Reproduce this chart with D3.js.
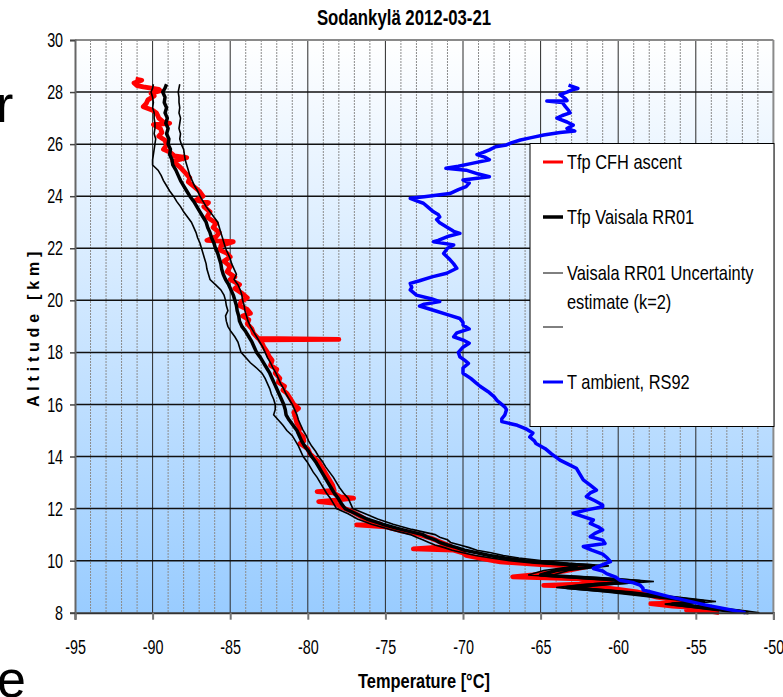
<!DOCTYPE html>
<html>
<head>
<meta charset="utf-8">
<script src="https://cdn.jsdelivr.net/npm/d3@7"></script>
<style>
  body { margin: 0; background: #fff; }
  svg { display: block; }
  text { font-family: "Liberation Sans", Arial, sans-serif; }
</style>
</head>
<body>
<div id="container"></div>
<script>
/* DATA */

// black: Tfp Vaisala RR01 and its uncertainty band (k=2), same altitudes
var rr01Alt = [28.3, 28.15, 28.0, 27.8, 27.6, 27.4, 27.2, 27.0, 26.8, 26.6, 26.4, 26.2, 26.0, 25.8, 25.6, 25.4, 25.2, 25.0,
  24.8, 24.6, 24.4, 24.2, 24.0, 23.8, 23.6, 23.4, 23.2, 23.0, 22.8, 22.6, 22.4, 22.2, 22.0, 21.8, 21.6, 21.4, 21.2, 21.0,
  20.8, 20.6, 20.4, 20.2, 20.0, 19.8, 19.6, 19.4, 19.2, 19.0, 18.8, 18.6, 18.4, 18.2, 18.0, 17.8, 17.6, 17.4, 17.2, 17.0,
  16.8, 16.6, 16.4, 16.2, 16.0, 15.8, 15.6, 15.4, 15.2, 15.0, 14.8, 14.6, 14.4, 14.2, 14.0, 13.8, 13.6, 13.4, 13.2, 13.0,
  12.8, 12.6, 12.4, 12.2, 12.0, 11.8, 11.6, 11.4, 11.2, 11.0, 10.9, 10.8, 10.7, 10.6, 10.5, 10.4, 10.3, 10.2, 10.1, 10.0,
  9.9, 9.8, 9.62, 9.45, 9.3, 9.2, 9.08, 8.97, 8.8, 8.6, 8.43, 8.33, 8.3, 8.2, 8.1, 8.0]
var rr01T = [-89.1, -89.2, -89.35, -89.2, -89.25, -89.1, -89.2, -89.05, -89.15, -89.0, -89.1, -88.95, -89.0, -88.85, -88.9, -88.75, -88.7, -88.5,
  -88.35, -88.2, -88.0, -87.8, -87.6, -87.35, -87.15, -86.95, -86.75, -86.55, -86.45, -86.3, -86.2, -86.05, -85.95, -85.8, -85.7, -85.6, -85.55, -85.45,
  -85.3, -85.1, -84.95, -84.8, -84.7, -84.6, -84.55, -84.45, -84.4, -84.25, -84.0, -83.8, -83.6, -83.45, -83.3, -83.05, -82.85, -82.65, -82.45, -82.3,
  -82.15, -82.0, -81.85, -81.7, -81.55, -81.45, -81.4, -81.2, -80.95, -80.7, -80.55, -80.4, -80.2, -79.95, -79.75, -79.5, -79.3, -79.1, -78.9, -78.7,
  -78.5, -78.3, -78.05, -77.85, -77.6, -76.9, -76.2, -75.2, -74.0, -72.6, -72.3, -71.8, -71.5, -71.0, -70.4, -69.9, -69.1, -68.3, -67.3, -66.0,
  -64.3, -61.6, -64.0, -65.0, -61.0, -58.6, -61.5, -63.3, -60.0, -57.0, -54.5, -56.5, -56.0, -54.5, -53.0, -51.6]
var rr01Lo = [-89.95, -90.0, -90.1, -90.0, -89.95, -90.0, -89.9, -89.9, -89.85, -89.85, -89.9, -89.8, -89.85, -89.9, -89.95, -90.0, -90.0, -89.65,
  -89.45, -89.3, -89.1, -88.9, -88.65, -88.45, -88.2, -88.0, -87.75, -87.5, -87.35, -87.2, -87.1, -86.95, -86.85, -86.75, -86.65, -86.55, -86.5, -86.4,
  -86.3, -85.95, -85.6, -85.4, -85.3, -85.25, -85.15, -85.3, -85.25, -85.15, -84.95, -84.7, -84.5, -84.4, -84.3, -84.0, -83.7, -83.3, -82.95, -82.75,
  -82.6, -82.45, -82.35, -82.2, -82.1, -82.1, -82.2, -81.9, -81.6, -81.35, -81.0, -80.8, -80.6, -80.45, -80.3, -80.05, -79.85, -79.65, -79.4, -79.2,
  -79.0, -78.8, -78.55, -78.35, -78.15, -77.4, -76.8, -75.9, -74.7, -73.4, -73.0, -72.6, -72.2, -71.8, -71.2, -70.7, -70.0, -69.2, -68.2, -67.0,
  -65.4, -62.6, -64.8, -65.8, -62.0, -59.5, -62.3, -64.0, -60.8, -57.8, -55.3, -57.0, -56.6, -55.2, -53.8, -52.4]
var rr01Hi = [-88.25, -88.3, -88.35, -88.3, -88.3, -88.25, -88.3, -88.2, -88.25, -88.3, -88.2, -88.25, -88.15, -88.0, -87.95, -87.9, -87.8, -87.7,
  -87.6, -87.45, -87.3, -87.1, -86.95, -86.75, -86.55, -86.3, -86.05, -85.8, -85.7, -85.6, -85.5, -85.4, -85.3, -85.15, -85.0, -84.9, -84.75, -84.6,
  -84.75, -84.5, -84.35, -84.25, -84.2, -84.1, -84.05, -83.95, -83.85, -83.7, -83.5, -83.3, -83.1, -82.9, -82.75, -82.6, -82.4, -82.25, -82.05, -81.9,
  -81.75, -81.55, -81.4, -81.2, -81.0, -80.85, -80.7, -80.6, -80.45, -80.3, -80.1, -79.95, -79.75, -79.5, -79.3, -79.05, -78.85, -78.6, -78.35, -78.15,
  -77.95, -77.7, -77.4, -77.25, -77.1, -76.3, -75.5, -74.5, -73.3, -71.8, -71.5, -71.0, -70.8, -70.2, -69.6, -69.1, -68.2, -67.4, -66.4, -65.0,
  -63.2, -60.6, -63.2, -64.2, -60.0, -57.7, -60.7, -62.6, -59.2, -56.2, -53.7, -56.0, -55.4, -53.8, -52.2, -50.9]

// red: Tfp CFH ascent
var cfhAlt = [28.5, 28.45, 28.35, 28.25, 28.2, 28.1, 28.05, 27.95, 27.85, 27.7, 27.57, 27.44, 27.3, 27.2, 27.0, 26.85, 26.8, 26.75,
  26.6, 26.45, 26.3, 26.15, 25.96, 25.8, 25.7, 25.55, 25.48, 25.35, 25.2, 25.1, 24.9, 24.7, 24.55, 24.4, 24.2, 24.0,
  23.85, 23.75, 23.6, 23.4, 23.2, 22.96, 22.8, 22.6, 22.45, 22.3, 22.25, 22.1, 21.93, 21.8, 21.67, 21.5, 21.3, 21.1,
  20.9, 20.8, 20.6, 20.45, 20.25, 20.1, 19.95, 19.8, 19.65, 19.5, 19.4, 19.25, 19.1, 18.9, 18.73, 18.54, 18.5, 18.48,
  18.3, 18.22, 18.0, 17.85, 17.7, 17.5, 17.35, 17.2, 17.0, 16.85, 16.7, 16.55, 16.43, 16.2, 16.0, 15.85, 15.7, 15.5,
  15.27, 15.1, 14.95, 14.76, 14.6, 14.5, 14.3, 14.1, 13.95, 13.8, 13.65, 13.5, 13.3, 13.1, 12.9, 12.7, 12.65, 12.6,
  12.45, 12.4, 12.33, 12.27, 12.2, 12.07, 11.9, 11.7, 11.5, 11.4, 11.37, 11.3, 11.15, 11.0, 10.85, 10.7, 10.55, 10.45,
  10.4, 10.3, 10.2, 10.05, 9.95, 9.85, 9.77, 9.6, 9.45, 9.38, 9.3, 9.2, 9.1, 9.05, 9.0, 8.9, 8.8, 8.6, 8.45, 8.38,
  8.35, 8.25, 8.2, 8.12, 8.1, 8.05, 8.0]
var cfhT = [-91.1, -90.7, -91.2, -91.0, -90.6, -89.6, -89.5, -90.1, -89.9, -90.3, -90.4, -90.6, -90.0, -89.75, -89.6, -89.3, -88.9, -89.95,
  -89.5, -89.4, -89.6, -89.2, -89.1, -89.3, -88.9, -88.6, -87.8, -88.7, -88.4, -88.2, -87.9, -87.6, -87.7, -87.4, -87.0, -86.75,
  -87.2, -86.4, -86.7, -86.3, -86.5, -85.9, -86.1, -85.7, -85.9, -86.5, -84.8, -85.6, -85.65, -85.2, -85.0, -85.4, -85.0, -85.2,
  -84.7, -85.0, -84.4, -84.7, -84.2, -83.9, -84.3, -84.4, -83.9, -83.7, -84.2, -83.8, -83.9, -83.6, -83.5, -83.2, -78.0, -83.1,
  -82.9, -82.85, -82.6, -82.5, -82.3, -82.4, -82.0, -82.1, -81.8, -81.9, -81.5, -81.6, -81.35, -81.1, -80.9, -80.6, -80.9, -80.8,
  -80.7, -80.5, -80.6, -80.3, -80.25, -80.5, -80.0, -79.85, -79.6, -79.3, -79.15, -79.0, -78.8, -78.6, -78.4, -78.3, -79.4, -78.35,
  -77.9, -77.05, -78.0, -79.3, -78.2, -77.9, -77.2, -76.6, -76.0, -75.3, -76.85, -75.0, -74.0, -72.8, -72.0, -71.4, -70.8, -73.2,
  -70.6, -70.0, -69.8, -68.5, -67.6, -65.0, -62.0, -63.5, -65.5, -66.8, -62.5, -60.5, -62.5, -64.8, -61.5, -60.0, -58.8, -57.5, -56.0, -55.5,
  -57.9, -56.5, -55.0, -54.5, -55.6, -54.0, -53.5]

// blue: T ambient, RS92
var rs92Alt = [28.27, 28.14, 28.1, 28.0, 27.9, 27.75, 27.67, 27.66, 27.6, 27.44, 27.3, 27.2, 27.1, 27.0, 26.85, 26.73, 26.6, 26.5,
  26.45, 26.35, 26.25, 26.16, 26.05, 25.97, 25.9, 25.78, 25.68, 25.6, 25.5, 25.4, 25.25, 25.15, 25.07, 25.0, 24.85, 24.75,
  24.62, 24.5, 24.37, 24.25, 24.1, 23.98, 23.92, 23.8, 23.73, 23.55, 23.4, 23.3, 23.2, 23.1, 22.98, 22.8, 22.65, 22.57,
  22.45, 22.3, 22.25, 22.13, 22.0, 21.8, 21.6, 21.4, 21.23, 21.04, 20.9, 20.75, 20.65, 20.5, 20.4, 20.2, 20.05, 19.95,
  19.85, 19.78, 19.6, 19.45, 19.3, 19.15, 19.05, 18.9, 18.75, 18.6, 18.45, 18.35, 18.2, 18.0, 17.83, 17.7, 17.58, 17.4,
  17.2, 17.0, 16.85, 16.7, 16.5, 16.3, 16.15, 16.05, 15.9, 15.8, 15.6, 15.45, 15.34, 15.2, 15.05, 14.9, 14.75, 14.6,
  14.5, 14.3, 14.1, 13.86, 13.7, 13.55, 13.35, 13.1, 12.9, 12.71, 12.6, 12.46, 12.3, 12.14, 12.07, 11.95, 11.82, 11.7,
  11.56, 11.43, 11.3, 11.18, 11.05, 10.92, 10.79, 10.66, 10.54, 10.4, 10.25, 10.1, 9.96, 9.9, 9.8, 9.7, 9.6, 9.5,
  9.38, 9.25, 9.15, 9.06, 8.94, 8.87, 8.6, 8.3, 8.0]
var rs92T = [-63.2, -62.6, -62.9, -63.3, -63.75, -63.4, -63.3, -64.6, -63.6, -63.4, -63.2, -63.1, -63.6, -63.95, -63.3, -62.9, -63.3, -62.8,
  -63.75, -64.8, -65.6, -66.3, -66.9, -67.2, -67.9, -68.3, -68.7, -69.1, -68.6, -68.3, -69.5, -70.3, -71.1, -69.8, -69.0, -68.3,
  -70.0, -69.6, -69.8, -70.3, -70.85, -72.5, -73.4, -72.9, -72.55, -72.2, -71.9, -71.6, -71.5, -71.7, -71.5, -71.0, -70.6, -70.2,
  -71.0, -71.6, -71.9, -70.6, -71.0, -71.25, -70.9, -70.6, -70.4, -71.05, -72.0, -72.8, -73.4, -73.3, -73.4, -73.0, -72.0, -71.5,
  -72.5, -72.8, -71.8, -71.0, -70.2, -70.0, -70.0, -69.6, -70.4, -70.6, -69.9, -69.6, -70.0, -70.3, -70.2, -69.9, -69.65, -70.0,
  -70.0, -69.5, -69.2, -68.9, -68.4, -68.0, -67.8, -67.6, -67.3, -67.2, -67.3, -67.5, -67.5, -66.5, -65.9, -65.5, -65.7, -65.4,
  -65.3, -64.7, -64.3, -63.75, -63.2, -62.7, -62.5, -62.25, -61.8, -61.4, -61.8, -62.05, -61.5, -61.0, -61.0, -62.0, -62.9, -62.3,
  -61.6, -61.8, -61.3, -61.0, -61.5, -61.8, -61.0, -60.85, -62.25, -61.7, -61.0, -60.7, -60.5, -60.75, -61.2, -61.6, -61.0, -60.75,
  -60.2, -59.9, -59.0, -58.6, -58.4, -58.4, -56.6, -54.4, -51.8]

// axis ticks
var xTicks = [-95, -90, -85, -80, -75, -70, -65, -60, -55, -50]
var yTicks = [8, 10, 12, 14, 16, 18, 20, 22, 24, 26, 28, 30]

var legendItems = [
  {label: ["Tfp CFH ascent"], color: "#ff0000", w: 3},
  {label: ["Tfp Vaisala RR01"], color: "#000", w: 3.5},
  {label: ["Vaisala RR01 Uncertainty", "estimate (k=2)"], color: "#000", w: 1},
  {label: [""], color: "#000", w: 1},
  {label: ["T ambient, RS92"], color: "#0000ff", w: 3}
]

/* CONSTANTS */
var width = 783, height = 697
var plot = {left: 75, right: 773.4, top: 40, bottom: 612.7}
var narrow = "scale(0.8,1)"   // no narrow font installed, squeeze instead

var svg = d3.select("#container")
  .append("svg")
  .attr("width", width)
  .attr("height", height)

/* SCALES */
var xScale = d3.scaleLinear().domain([-95, -50]).range([plot.left, plot.right])
var yScale = d3.scaleLinear().domain([8, 30]).range([plot.bottom, plot.top])

// background gradient
var grad = svg.append("defs").append("linearGradient")
  .attr("id", "bg").attr("x1", 0).attr("y1", 0).attr("x2", 0).attr("y2", 1)
grad.append("stop").attr("offset", "0%").attr("stop-color", "#ffffff")
grad.append("stop").attr("offset", "100%").attr("stop-color", "#99ccff")

svg.append("rect")
  .attr("x", plot.left).attr("y", plot.top)
  .attr("width", plot.right - plot.left).attr("height", plot.bottom - plot.top)
  .attr("fill", "url(#bg)")

// vertical grid, minor every 1 deg
var minor = d3.range(-94, -50).filter(d => d % 5 !== 0)
svg.append("g").selectAll("line")
  .data(minor)
  .join("line")
  .attr("x1", d => xScale(d)).attr("x2", d => xScale(d))
  .attr("y1", plot.top).attr("y2", plot.bottom)
  .attr("stroke", "#8c8c8c").attr("stroke-width", 1)
  .attr("stroke-dasharray", "2,1")

svg.append("g").selectAll("line")
  .data(xTicks.slice(1, -1))
  .join("line")
  .attr("x1", d => xScale(d)).attr("x2", d => xScale(d))
  .attr("y1", plot.top).attr("y2", plot.bottom)
  .attr("stroke", "#2a2a2a").attr("stroke-width", 1)

// horizontal grid
svg.append("g").selectAll("line")
  .data(yTicks.slice(1, -1))
  .join("line")
  .attr("x1", plot.left).attr("x2", plot.right)
  .attr("y1", d => yScale(d)).attr("y2", d => yScale(d))
  .attr("stroke", "#111").attr("stroke-width", 1.5)

// frame
svg.append("line")
  .attr("x1", plot.left).attr("x2", plot.right).attr("y1", plot.top).attr("y2", plot.top)
  .attr("stroke", "#8a8a8a").attr("stroke-width", 2)
svg.append("line")
  .attr("x1", plot.right).attr("x2", plot.right).attr("y1", plot.top).attr("y2", plot.bottom)
  .attr("stroke", "#8a8a8a").attr("stroke-width", 2)

/* LINES */
var line = d3.line()
  .x(d => xScale(d[0]))
  .y(d => yScale(d[1]))

function series(ts, alts) { return ts.map((t, i) => [t, alts[i]]) }

var plotArea = svg.append("g")

plotArea.append("path")
  .attr("d", line(series(cfhT, cfhAlt)))
  .attr("fill", "none").attr("stroke", "#ff0000").attr("stroke-width", 4.8)
  .attr("stroke-linejoin", "round")

plotArea.append("path")
  .attr("d", line(series(rr01Lo, rr01Alt)))
  .attr("fill", "none").attr("stroke", "#000").attr("stroke-width", 1.6)
plotArea.append("path")
  .attr("d", line(series(rr01Hi, rr01Alt)))
  .attr("fill", "none").attr("stroke", "#000").attr("stroke-width", 1.6)
plotArea.append("path")
  .attr("d", line(series(rr01T, rr01Alt)))
  .attr("fill", "none").attr("stroke", "#000").attr("stroke-width", 3.5)
  .attr("stroke-linejoin", "round")

plotArea.append("path")
  .attr("d", line(series(rs92T, rs92Alt)))
  .attr("fill", "none").attr("stroke", "#0000ff").attr("stroke-width", 3.5)
  .attr("stroke-linejoin", "round")

/* AXES */
var xAxis = svg.append("g")
  .attr("transform", "translate(0," + plot.bottom + ")")
  .call(d3.axisBottom(xScale).tickValues(xTicks).tickSize(7).tickPadding(20).tickFormat(d => String(d)))
xAxis.select(".domain").attr("stroke", "#333").attr("stroke-width", 2)
xAxis.selectAll(".tick line").attr("stroke", "#777").attr("stroke-width", 2)
xAxis.selectAll("text")
  .attr("font-size", 20.5).attr("fill", "#000")
  .attr("transform", "scale(0.7,1)")

var yAxis = svg.append("g")
  .attr("transform", "translate(" + plot.left + ",0)")
  .call(d3.axisLeft(yScale).tickValues(yTicks).tickSize(5).tickPadding(12).tickFormat(d => String(d)))
yAxis.select(".domain").attr("stroke", "#666").attr("stroke-width", 2)
yAxis.selectAll(".tick line").attr("stroke", "#444").attr("stroke-width", 1.5)
yAxis.selectAll("text")
  .attr("font-size", 20.5).attr("fill", "#000")
  .attr("transform", "scale(0.7,1)")

svg.selectAll(".tick text").attr("font-family", null)

/* LEGEND */
var legend = svg.append("g")
legend.append("rect")
  .attr("x", 530).attr("y", 143.5).attr("width", 244).attr("height", 283)
  .attr("fill", "#fff").attr("stroke", "#000").attr("stroke-width", 1)

var legendY = [162, 217, 273, 327, 382]
legendItems.forEach((item, i) => {
  legend.append("line")
    .attr("x1", 543).attr("x2", 563)
    .attr("y1", legendY[i]).attr("y2", legendY[i])
    .attr("stroke", item.color).attr("stroke-width", item.w)
  item.label.forEach((s, j) => {
    legend.append("g")
      .attr("transform", "translate(567," + (legendY[i] + 7 + j * 29) + ")")
      .append("text")
      .attr("transform", narrow)
      .attr("font-size", 20.5)
      .text(s)
  })
})

/* TITLES */
svg.append("g")
  .attr("transform", "translate(404,25)")
  .append("text")
  .attr("transform", "scale(0.78,1)")
  .attr("text-anchor", "middle")
  .attr("font-size", 21.5).attr("font-weight", "bold")
  .text("Sodankylä 2012-03-21")

svg.append("g")
  .attr("transform", "translate(424,688)")
  .append("text")
  .attr("transform", narrow)
  .attr("text-anchor", "middle")
  .attr("font-size", 20.5).attr("font-weight", "bold")
  .text("Temperature [°C]")

svg.append("text")
  .attr("transform", "translate(39,327) rotate(-90)")
  .attr("text-anchor", "middle")
  .attr("font-size", 16).attr("font-weight", "bold")
  .attr("letter-spacing", 4.8)
  .text("Altitude [km]")

// cut-off slide text at the left edge
svg.append("text")
  .attr("x", -4).attr("y", 122)
  .attr("font-size", 52)
  .text("r")
svg.append("text")
  .attr("x", -3).attr("y", 697)
  .attr("font-size", 52)
  .text("e")
</script>
</body>
</html>
